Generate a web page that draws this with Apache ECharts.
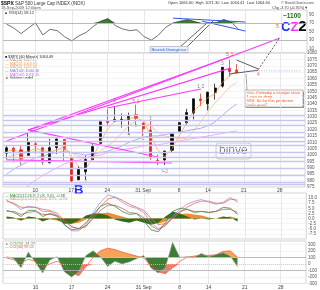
<!DOCTYPE html>
<html>
<head>
<meta charset="utf-8">
<script src="https://cdn.jsdelivr.net/npm/echarts@6/dist/echarts.min.js"></script>
<style>
  html, body { margin: 0; padding: 0; background: #fff; }
  #chart { width: 320px; height: 290px; }
</style>
</head>
<body>
<div id="chart"></div>
<script>
// trading days shown on the axis (Aug 4 .. Oct 1, 2009)
const days = ['8/4','8/5','8/6','8/7','8/10','8/11','8/12','8/13','8/14','8/17','8/18','8/19','8/20','8/21',
  '8/24','8/25','8/26','8/27','8/28','8/31','9/1','9/2','9/3','9/4','9/8','9/9','9/10','9/11',
  '9/14','9/15','9/16','9/17','9/18','9/21','9/22','9/23','9/24','9/25','9/28','9/29','9/30','10/1']
const tickLabels = { '8/10': '10', '8/17': '17', '8/24': '24', '8/31': '31 Sep', '9/8': '8', '9/14': '14', '9/21': '21', '9/28': '28' }

// $SPX prices
const open = [1001.4,1005.4,1004.1,999.8,1008.9,1005.8,994.0,1005.9,1012.2,998.2,980.6,986.9,996.4,1009.1,1026.6,1026.6,1027.4,1027.8,1031.6,1025.2,1019.5,996.1,996.1,1003.8,1018.7,1025.4,1033.0,1043.9,1040.2,1049.0,1054.0,1067.9,1066.6]
const high = [1007.1,1006.6,1008.0,1018.0,1010.1,1005.8,1012.8,1013.1,1012.6,998.2,991.2,999.6,1008.9,1027.6,1035.8,1037.8,1032.5,1033.3,1039.5,1025.2,1028.5,1000.3,1003.4,1016.5,1026.1,1036.3,1044.1,1048.2,1049.7,1056.0,1068.8,1074.8,1071.3]
const low = [996.7,994.3,992.5,999.8,1001.0,992.4,993.4,1000.8,994.6,978.5,980.6,980.6,996.4,1009.1,1022.5,1026.2,1021.6,1016.2,1023.1,1014.6,996.3,992.0,992.3,1001.7,1018.7,1024.0,1028.0,1038.4,1035.0,1043.4,1052.9,1061.2,1064.4]
const close = [1005.7,1002.7,997.1,1010.5,1007.1,994.4,1005.8,1012.7,1004.1,979.7,989.7,996.5,1007.4,1026.1,1025.6,1028.0,1028.1,1031.0,1028.9,1020.6,998.0,994.8,1003.2,1016.4,1025.4,1033.4,1044.1,1042.7,1049.3,1052.6,1068.8,1065.5,1064.6]

// moving averages
const ma20 = [1003,1004,1002,1003,1005,1004,1002,1004,1007,999,991,989,998,1010,1020,1026,1027,1029,1029,1027,1016,1004,999,1005,1015,1025,1034,1040,1045,1048,1057,1062,1066]
const ma50 = [998,1000,1001,1002,1003,1003,1003,1004,1005,1002,999,998,999,1003,1007,1011,1017,1023,1027,1027,1023,1018,1015,1014,1013,1013,1019,1026,1034,1041,1047,1053,1057]
const ma100 = [985,989,992,995,998,999,1001,1002,1003,1002,1001,1000,1001,1002,1003,1005,1007,1010,1012,1014,1015,1015,1016,1017,1018,1019,1020,1021,1023,1026,1031,1036,1040]
const ma200 = [960,966,971,976,980,984,987,990,993,995,996,998,999,1000,1002,1003,1004,1005,1006,1007,1008,1008,1009,1010,1011,1012,1013,1014,1015,1016,1017,1018,1019]

// RSI(14)
const rsi = [67,58,45,58,70,42,55,52,38,28,40,48,62,74,80,64,56,52,54,38,30,42,60,70,74,78,73,68,70,71,78,72,56]

// two MACDs
const macdSlow = [9,7,4.5,6,5.5,3.5,3.5,1.5,-3,-6,-6,-3,3,8,11.5,10.5,8,6,5,3,-2,-5,-3,1,4.5,7,8.5,9.3,8,7,8,10.3,8]
const signalSlow = [8.5,7.5,5.5,5.5,5.5,4.5,4,2.5,-1,-4,-5,-4,1,6,9.5,10.5,9,7,5.5,4,0,-3,-2.5,0,3,5.5,7.5,8.5,8.5,7.5,7.5,9.5,9]
const histSlow = [0.5,0,-1,0,0,-1,-0.5,-1,-2,-2.5,-2,-0.5,1.5,2.5,3,2,1,0,-0.5,-1,-2,-2.5,-1.5,0.5,2,2.5,2,1.5,0.5,0,0.5,1,0]
const macdFast = [4,3,1,4,4,1,2.5,1,-3,-5.5,-5,-2,2,6,7.5,6,3.5,2,2.5,-1,-5.5,-6.5,-2,3.5,5,4.5,3,3.5,3,3.5,5.5,5,2]
const signalFast = [3.5,3.5,2,3,3.5,2,2,1.5,-1,-4,-5,-3.5,0,4,6.5,6.5,5,3,2.5,0.5,-3.5,-5.5,-3.5,0.5,3.5,4.5,3.5,3.5,3,3.5,4.5,4.5,3]
const histFast = [1,0.5,-1,1,0.5,-1.5,0,-0.5,-2.5,-2.5,-1,1.5,2.5,2.5,1.5,-0.5,-1.5,-2,-1,-2,-3,-2,1,3.5,2.5,1,-0.5,0,-0.5,0,1,0.5,-1.5]

// CCI panel
const cci20 = [110,80,-60,180,20,-140,60,110,-120,-200,-120,130,200,110,-40,40,0,30,80,130,-60,-140,-60,330,100,110,100,160,110,140,170,120,-40]
const cci40 = [90,60,20,70,40,-40,0,40,-20,-140,-180,-40,100,200,240,220,180,150,120,90,-20,-120,-150,-60,40,100,120,130,130,140,190,200,100]

// drawn support / resistance levels
const hLevels = [1031.5,1027,1023,1018,1014,1010.5,1008,1002.5,998.5,995.5,990,984.5,978.5,977.2]
// trend lines [dayIndex, price]
const magentaLines = [
  [[0, 1011], [38, 1091.8]],
  [[3, 1019.7], [31, 1076.9]],
  [[3, 1019.7], [31, 1067.9]],
  [[3, 1019.7], [21, 998.5]],
  [[0, 996.2], [23, 993.8]],
  [[14, 1036.9], [27, 1051.8]],
]
const triangleLines = [
  [[32, 1074.5], [35, 1067.5]],
  [[31, 1063.6], [35, 1066.5]],
]
const targetLine = [[35, 1067], [38, 1092]]
const lastLine = [[33, 1066], [41, 1066]]
const rsiLines = [
  [[23, 81], [33, 72]],
  [[27, 74], [33, 51]],
]
// wave counts [dayIndex, price, text]
const waveLabels = [
  [15, 1043, '{g|3}'],
  [18, 1042, '{k|5} {r|1}'],
  [17, 1016, '{k|4}'],
  [18, 1023, '{g|b}'],
  [20, 1030, '{g|x}'],
  [19, 1013, '{k|c}'],
  [11, 990, '{k|1}'],
  [11, 979.5, '{g|2}'],
  [22, 987.5, '{g|C}{r|2}'],
  [27, 1053.5, '{k|1} {g|2}'],
  [28, 1037, '{g|4}'],
  [30, 1071.5, '{k|3}'],
  [31, 1079, '{k|5} {r|3}'],
  [35, 1062.8, '{r|4}'],
]

const grids = [
  { top: 10, height: 43 },
  { top: 53, height: 134 },
  { top: 193, height: 46 },
  { top: 241, height: 43 },
].map(g => Object.assign({ left: 3, right: 13, show: true, borderColor: '#c4c4c4', borderWidth: 0.8 }, g))

function xAxis(i, labels) {
  return {
    type: 'category', gridIndex: i, data: days, boundaryGap: true,
    axisLine: { show: false }, axisTick: { show: false },
    axisLabel: {
      show: labels, interval: (n, v) => v in tickLabels, formatter: v => tickLabels[v] || '',
      fontSize: 5, color: '#444', margin: 1.5, fontFamily: 'Liberation Sans',
    },
    splitLine: { show: true, alignWithLabel: true, interval: (n, v) => v in tickLabels, lineStyle: { color: '#e2e2e2', width: 0.8 } },
  }
}
function yAxis(i, extra) {
  return Object.assign({
    type: 'value', gridIndex: i, position: 'right',
    axisLine: { show: false }, axisTick: { show: false },
    axisLabel: { fontSize: 4.5, color: '#555', margin: 2, fontFamily: 'Liberation Sans', formatter: v => String(v) },
    splitLine: { show: true, lineStyle: { color: '#eeeeee', width: 0.6 } },
  }, extra)
}
function line(xi, data, color, width, extra) {
  return Object.assign({
    type: 'line', xAxisIndex: xi, yAxisIndex: xi, data: data, symbol: 'none', silent: true,
    lineStyle: { color: color, width: width }, animation: false,
  }, extra)
}
function area(xi, data, color, origin) {
  return line(xi, data, color, 0, { areaStyle: { color: color, opacity: 1, origin: origin } })
}

const candles = open.map((o, i) => [o, close[i], low[i], high[i]])

const series = [
  // RSI panel
  area(0, rsi.map(v => Math.max(v, 70)), '#3d7a32', 70),
  line(0, rsi, '#333', 0.7, {
    markLine: { silent: true, symbol: 'none', label: { show: false }, lineStyle: { color: '#a8a8a8', width: 0.8, type: 'solid' }, data: [{ yAxis: 70 }, { yAxis: 30 }] },
  }),
  ...rsiLines.map(l => line(0, l, '#3355ee', 1)),

  // price panel
  {
    type: 'candlestick', xAxisIndex: 1, yAxisIndex: 1, data: candles, barWidth: 2.6, silent: true, animation: false,
    itemStyle: { color: '#000', color0: '#e0201c', borderColor: '#000', borderColor0: '#e0201c', borderWidth: 0.7 },
    markLine: {
      silent: true, symbol: 'none', label: { show: false }, animation: false,
      lineStyle: { color: '#c6c6f4', width: 1.4, type: 'solid' },
      data: hLevels.map(v => ({ yAxis: v })),
    },
  },
  line(1, ma20, '#f4a04a', 0.7),
  line(1, ma50, '#f2b489', 0.7),
  line(1, ma100, '#8c8ce8', 0.7),
  line(1, ma200, '#ef86ef', 0.7),
  ...magentaLines.map(l => line(1, l, '#ff38ff', 1.2, { clip: false })),
  ...triangleLines.map(l => line(1, l, '#333', 0.8)),
  line(1, targetLine, '#222', 0.7, { clip: false, lineStyle: { color: '#222', width: 0.7, type: [2, 1.5] } }),
  line(1, lastLine, '#8090e8', 0.7, { lineStyle: { color: '#8090e8', width: 0.7, type: [1, 1.5] } }),
  {
    type: 'scatter', xAxisIndex: 1, yAxisIndex: 1, symbolSize: 0, silent: true, animation: false, clip: false,
    data: waveLabels.map(w => ({ value: [w[0], w[1]], label: { formatter: w[2] } })),
    label: {
      show: true, position: 'inside', fontSize: 5, fontFamily: 'Liberation Sans',
      rich: {
        g: { color: '#2e8b2e', fontSize: 5 }, r: { color: '#f2561e', fontSize: 5.5 }, k: { color: '#666', fontSize: 5 },
      },
    },
  },

  // MACD panel
  area(2, histSlow, '#f58a2e', 0),
  area(2, histFast, '#2e6e1e', 0),
  line(2, macdSlow, '#9c92e6', 0.8),
  line(2, signalSlow, '#f06a4a', 0.8),
  line(2, macdFast, '#3b8a3b', 0.8),
  line(2, signalFast, '#b05a50', 0.7),

  // CCI panel: orange above +100, red below 0, green from the +100 line
  area(3, cci40.map(v => Math.max(v, 100)), '#f7a35a', 100),
  area(3, cci40.map(v => Math.min(v, 0)), '#f47a6a', 0),
  line(3, cci40, '#f0503a', 0.7),
  area(3, cci20, '#3f7c36', 100),
  line(3, cci20, '#9aa29a', 0.6, {
    markLine: {
      silent: true, symbol: 'none', label: { show: false },
      data: [
        { yAxis: 100, lineStyle: { color: '#b8c0b8', width: 1.2, type: 'solid' } },
        { yAxis: 0, lineStyle: { color: '#c8c8c8', width: 0.8, type: [1, 1] } },
        { yAxis: -100, lineStyle: { color: '#b0b0b0', width: 0.8, type: 'solid' } },
      ],
    },
  }),
]

const txt = (x, y, text, size, color, extra) => ({
  type: 'text', x: x, y: y, silent: true,
  style: Object.assign({ text: text, fontSize: size, fill: color, fontFamily: 'Liberation Sans' }, extra),
})

const graphic = [
  txt(1, 1, '{b|$SPX} S&P 500 Large Cap INDEX (INDX)', 4.5, '#333', { rich: { b: { fontWeight: 'bold', fontSize: 5, fill: '#000' } } }),
  txt(1, 6, '18-Sep-2009 12:00pm', 4, '#555'),
  txt(4, 11, '▲ RSI(14) 58.12', 4, '#333'),
  txt(168, 1, 'Open 1066.60  High 1071.30  Low 1064.41  Last 1064.60', 4, '#333'),
  txt(281, 1, '© StockCharts.com', 3.8, '#444'),
  txt(272, 5.5, 'Chg -3.70 (-0.35%)▼', 3.8, '#444'),
  txt(5, 54.5, '■ $SPX (60 Minute) 1064.49', 3.8, '#222'),
  txt(5, 58.1, '— MA(10) 1067.11', 3.8, '#888'),
  txt(5, 61.7, '— MA(20) 1063.91', 3.8, '#f4a04a'),
  txt(5, 65.3, '— MA(50) 1051.88', 3.8, '#f08060'),
  txt(5, 68.9, '— MA(100) 1040.36', 3.8, '#7070d8'),
  txt(5, 72.5, '— MA(200) 1018.45', 3.8, '#e060e0'),
  txt(5, 76.1, '▲ Volume undef', 3.8, '#222'),
  txt(5, 193.5, '— MACD(12,26,9) 2.03, 3.01, -0.98', 3.8, '#2e7a2e'),
  txt(5, 197.3, '— MACD(24,52,18) 8.02, 8.95, -0.93', 3.8, '#f06a4a'),
  txt(5, 241.5, '▲ CCI(20) -41.27', 3.8, '#2e7a2e'),
  txt(5, 245.3, '— CCI(40) 99.53', 3.8, '#f0503a'),

  // annotations
  txt(283, 13, '~1100', 6.5, '#1f6e1f', { fontWeight: 'bold' }),
  txt(281, 19.5, '{c|C}{z|Z}{t|2}', 13, '#000', {
    fontWeight: 'bold',
    rich: { c: { fill: '#1f2cff', fontSize: 13, fontWeight: 'bold' }, z: { fill: '#ff33ff', fontSize: 13, fontWeight: 'bold' }, t: { fill: '#000', fontSize: 15, fontWeight: 'bold' } },
  }),
  txt(276, 24, '5', 5, '#f2561e'),
  txt(74, 184, 'B', 13, '#1f2cff', { fontWeight: 'bold' }),
  {
    type: 'group', x: 216, y: 143, silent: true, children: [
      { type: 'rect', shape: { x: 0, y: 0, width: 35, height: 16, r: 3 }, style: { fill: '#fff', stroke: '#b8b8b8', lineWidth: 0.8 } },
      txt(3, 1.5, 'binve', 12, '#7a7a7a'),
    ],
  },
  {
    type: 'group', x: 245, y: 90, silent: true, children: [
      { type: 'rect', shape: { x: 1, y: 1, width: 58, height: 17 }, style: { fill: '#999' } },
      { type: 'rect', shape: { x: 0, y: 0, width: 58, height: 17 }, style: { fill: '#fff', stroke: '#888', lineWidth: 0.6 } },
      txt(1.5, 1, '9/11: Probably a triangle since', 4, '#f2561e'),
      txt(1.5, 5, '1 was so deep', 4, '#f2561e'),
      txt(1.5, 9, '9/16: So far this prediction', 4, '#f2561e'),
      txt(1.5, 13, 'looks good!', 4, '#f2561e'),
    ],
  },
  { type: 'line', silent: true, shape: { x1: 246, y1: 74, x2: 247, y2: 90 }, style: { stroke: '#666', lineWidth: 0.6 } },
  { type: 'line', silent: true, shape: { x1: 180, y1: 47, x2: 207, y2: 23 }, style: { stroke: '#222', lineWidth: 0.7 } },
  { type: 'line', silent: true, shape: { x1: 187, y1: 47, x2: 213, y2: 21 }, style: { stroke: '#222', lineWidth: 0.7 } },
  {
    type: 'group', x: 150, y: 46.5, silent: true, children: [
      { type: 'rect', shape: { x: 0, y: 0, width: 38, height: 6 }, style: { fill: '#eaf1ff', stroke: '#8896b0', lineWidth: 0.5 } },
      txt(1.5, 1, 'Bearish Divergence', 4, '#1c4fd6'),
    ],
  },
]

const chart = echarts.init(document.getElementById('chart'))
chart.setOption({
  animation: false,
  backgroundColor: '#fff',
  grid: grids,
  xAxis: [xAxis(0, false), xAxis(1, true), xAxis(2, false), xAxis(3, true)],
  yAxis: [
    yAxis(0, { min: 0, max: 100, interval: 10, splitLine: { show: false }, axisLabel: { fontSize: 4.5, color: '#555', margin: 2, formatter: v => (v / 10) % 2 === 1 ? String(v) : '' } }),
    yAxis(1, { min: 975, max: 1080, interval: 5 }),
    yAxis(2, { min: -10, max: 12.5, interval: 2.5, axisLabel: { fontSize: 4.5, color: '#555', margin: 2, showMinLabel: false, showMaxLabel: false, formatter: v => v.toFixed(1) } }),
    yAxis(3, { min: -300, max: 350, interval: 100, axisLabel: { fontSize: 4.5, color: '#555', margin: 2, showMaxLabel: false, formatter: v => String(v) } }),
  ],
  series: series,
  graphic: graphic,
})
</script>
</body>
</html>
